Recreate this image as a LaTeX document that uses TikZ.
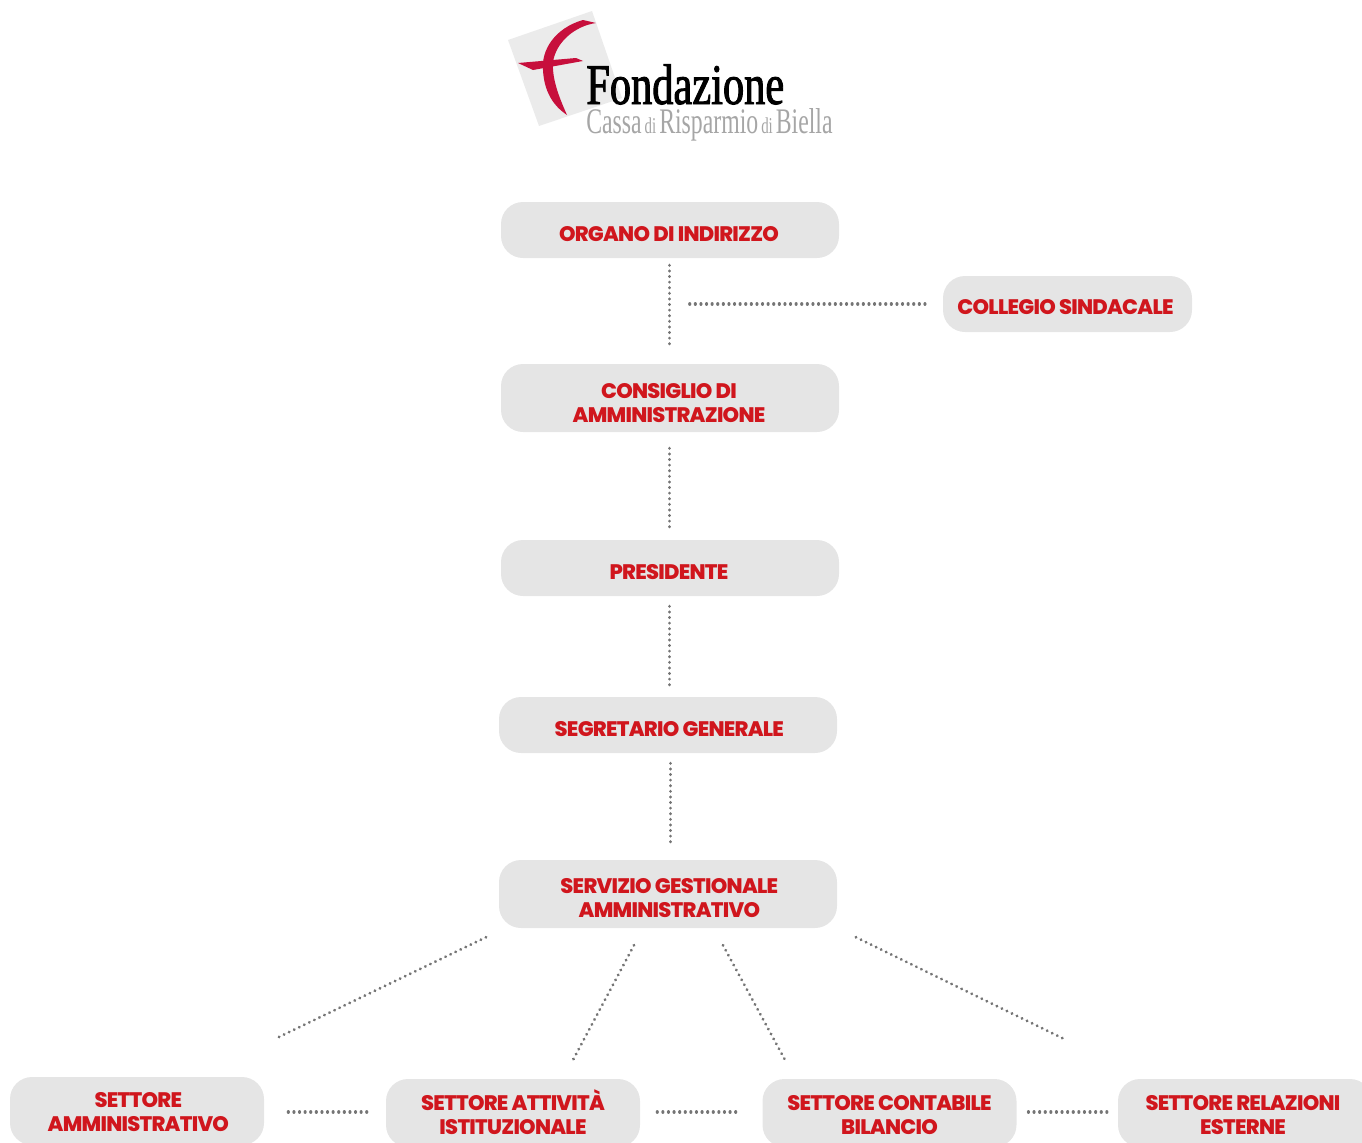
\documentclass[tikz,border=0pt]{standalone}
\usepackage{fontspec}
\setmainfont{Poppins}
\newfontfamily\popf[LetterSpace=-3.5]{Poppins ExtraBold}
\newfontfamily\logoa[FakeStretch=0.74,FakeBold=1.6]{Liberation Serif}
\newfontfamily\logob[FakeStretch=0.66,WordSpace=0.5]{Liberation Serif}
\definecolor{boxgray}{HTML}{E5E5E5}
\definecolor{txtred}{HTML}{D0161D}
\definecolor{dotgray}{HTML}{757575}
\definecolor{logored}{HTML}{C70F3C}
\definecolor{logosq}{HTML}{EBEBEB}
\definecolor{logogr}{HTML}{A6A6A6}
\newcommand\bl[2][8.75pt]{\raisebox{-#1}[0pt][0pt]{#2}}
\tikzset{
  orgbox/.style={fill=boxgray,rounded corners=16.5pt,minimum width=253.5pt,minimum height=42pt,inner sep=0pt,align=center,text=txtred,font=\fontsize{15.75pt}{18pt}\selectfont\popf},
  tallbox/.style={orgbox,minimum height=51pt},
  lowbox/.style={tallbox,minimum width=190.5pt},
  dotline/.style={draw=dotgray,line width=2.3pt,line cap=round,dash pattern=on 0.1pt off 4.1pt},
}
\begin{document}
\begin{tikzpicture}[x=0.75pt,y=-0.75pt]
\clip (0,0) rectangle (1362,1142);
% logo
\fill[logosq] (592,11) -- (508,40) -- (539,126) -- (622,98) -- cycle;
\fill[logored] (583,20) .. controls (555,28) and (541,50) .. (543,70) .. controls (544,90) and (552,105) .. (567,115) .. controls (558,95) and (552,78) .. (553,62) .. controls (556,42) and (575,26) .. (596,23) -- cycle;
\fill[logored] (518,63) -- (576,58) -- (583,61) -- (533,70) -- cycle;
\node[anchor=base west,inner sep=0pt,text=black,font=\fontsize{43pt}{43pt}\selectfont\logoa] (lf) at (586,104) {Fondazione};
\node[anchor=base west,inner sep=0pt,text=logogr,font=\fontsize{27pt}{27pt}\selectfont\logob] (lc) at (586,133) {Cassa {\fontsize{17pt}{17pt}\selectfont di} Risparmio {\fontsize{17pt}{17pt}\selectfont di} Biella};
% boxes
\node[orgbox] (org) at (670,230) {\hspace*{-1.5pt}\bl{ORGANO DI INDIRIZZO}};
\node[orgbox,minimum width=186.75pt] (col) at (1067.5,304) {\hspace*{-3pt}\bl[8pt]{COLLEGIO SINDACALE}};
\node[tallbox] (cda) at (670,398) {\hspace*{-1.5pt}\bl[9.5pt]{CONSIGLIO DI}\\\hspace*{-1.5pt}\bl[9.5pt]{AMMINISTRAZIONE}};
\node[orgbox] (pre) at (670,568) {\hspace*{-1.5pt}\bl{PRESIDENTE}};
\node[orgbox] (seg) at (668,725) {\hspace*{2pt}\bl{SEGRETARIO GENERALE}};
\node[tallbox] (ser) at (668,894) {\hspace*{2pt}\bl{SERVIZIO GESTIONALE}\\\hspace*{2pt}\bl{AMMINISTRATIVO}};
\node[lowbox] (s1) at (137,1111) {\hspace*{2pt}\bl[6.5pt]{SETTORE}\\\hspace*{2pt}\bl[6.5pt]{AMMINISTRATIVO}};
\node[lowbox] (s2) at (513,1113) {\bl[7.25pt]{SETTORE ATTIVITÀ}\\\bl[7.25pt]{ISTITUZIONALE}};
\node[lowbox] (s3) at (889.5,1113) {\bl[7.25pt]{SETTORE CONTABILE}\\\bl[7.25pt]{BILANCIO}};
\node[lowbox] (s4) at (1245,1113) {\hspace*{-3pt}\bl[7.25pt]{SETTORE RELAZIONI}\\\hspace*{-3pt}\bl[7.25pt]{ESTERNE}};
% connectors
\coordinate (mid) at (669,304);
\draw[dotline,shorten <=5.25pt,shorten >=13pt] ([xshift=-0.6pt]org.south) -- ([xshift=-0.6pt]cda.north);
\draw[dotline,shorten <=12pt,shorten >=7pt] ([xshift=-0.6pt]cda.south) -- ([xshift=-0.6pt]pre.north);
\draw[dotline,shorten <=7.5pt,shorten >=7pt] ([xshift=-0.6pt]pre.south) -- ([xshift=0.9pt]seg.north);
\draw[dotline,shorten <=7.5pt,shorten >=11.5pt] ([xshift=1.9pt]seg.south) -- ([xshift=1.9pt]ser.north);
\draw[dotline,shorten <=15.5pt,shorten >=10.5pt] (mid) -- (col.west);
\draw[dotline,shorten <=15.5pt,shorten >=65pt] ([shift={(-163.4,0)}]ser.south) -- ([shift={(59.4,0)}]s1.north);
\draw[dotline,shorten <=14.4pt,shorten >=16.1pt] ([shift={(-25,0)}]ser.south) -- ([shift={(50,0)}]s2.north);
\draw[dotline,shorten <=14.5pt,shorten >=16.2pt] ([shift={(45.8,0)}]ser.south) -- ([shift={(-94.3,0)}]s3.north);
\draw[dotline,shorten <=15.3pt,shorten >=67pt] ([shift={(169.6,0)}]ser.south) -- ([shift={(-99.5,0)}]s4.north);
\draw[dotline,shorten <=18pt,shorten >=11.5pt] (s1.east |- 0,1112) -- (s2.west |- 0,1112);
\draw[dotline,shorten <=12.7pt,shorten >=17pt] (s2.east |- 0,1112) -- (s3.west |- 0,1112);
\draw[dotline,shorten <=8.7pt,shorten >=5.5pt] (s3.east |- 0,1112) -- (s4.west |- 0,1112);
\end{tikzpicture}
\end{document}
